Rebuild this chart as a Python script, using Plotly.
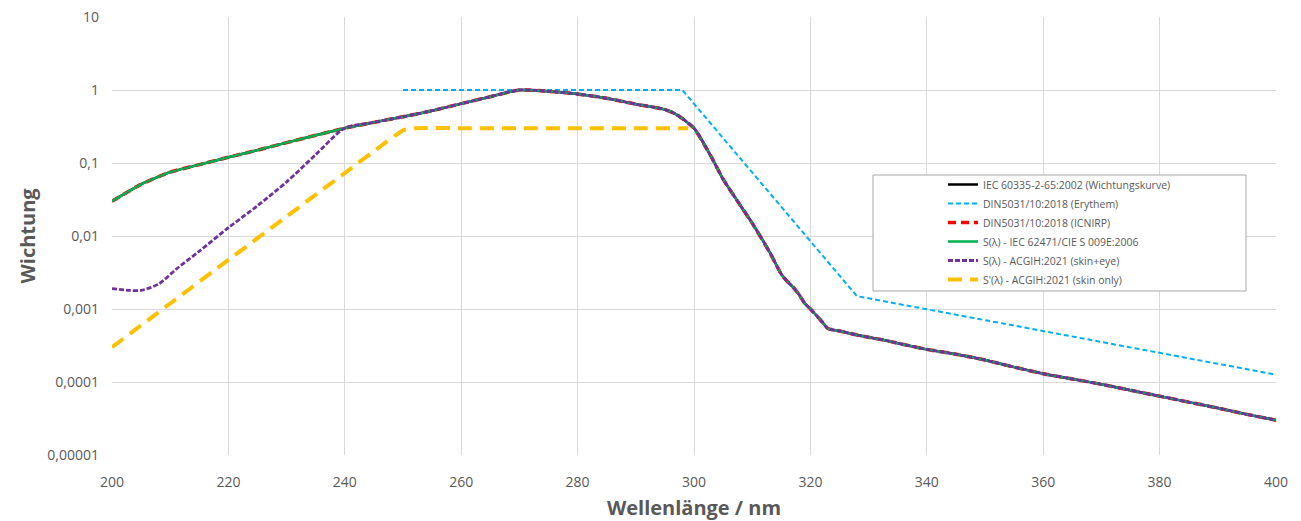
import plotly.graph_objects as go

# ---- data ----
wl_main = [200, 205, 210, 215, 220, 225, 230, 235, 240, 245, 250, 254, 255, 260, 265, 270,
           275, 280, 285, 290, 295, 297, 300, 303, 305, 308, 310, 313, 315, 316, 317, 318,
           319, 320, 322, 323, 325, 328, 330, 333, 335, 340, 345, 350, 355, 360, 365, 370,
           375, 380, 385, 390, 395, 400]
s_main = [0.030, 0.051, 0.075, 0.095, 0.12, 0.15, 0.19, 0.24, 0.30, 0.36, 0.43, 0.50, 0.52,
          0.65, 0.81, 1.00, 0.96, 0.88, 0.77, 0.64, 0.54, 0.46, 0.30, 0.12, 0.06, 0.026,
          0.015, 0.006, 0.003, 0.0024, 0.0020, 0.0016, 0.0012, 0.0010, 0.00067, 0.00054,
          0.00050, 0.00044, 0.00041, 0.00037, 0.00034, 0.00028, 0.00024, 0.00020, 0.00016,
          0.00013, 0.00011, 0.000093, 0.000077, 0.000064, 0.000053, 0.000044, 0.000036,
          0.000030]

wl_ery = [250, 298, 328, 400]
s_ery = [1.0, 1.0, 0.0015, 0.000126]

wl_acgih_low = [200, 203, 205, 208, 211, 215, 220, 225, 230, 235]
s_acgih_low = [0.0019, 0.0018, 0.0018, 0.0022, 0.0035, 0.0062, 0.013, 0.026, 0.055, 0.13]

wl_skin = [200, 210, 220, 230, 240, 245, 250, 252, 260, 270, 280, 290, 298, 299]
s_skin = [0.0003, 0.00119, 0.0047, 0.0185, 0.073, 0.145, 0.28, 0.30, 0.30, 0.30, 0.30,
          0.30, 0.30, 0.30]

names = ["IEC 60335-2-65:2002 (Wichtungskurve)",
         "DIN5031/10:2018 (Erythem)",
         "DIN5031/10:2018 (ICNIRP)",
         "S(λ) - IEC 62471/CIE S 009E:2006",
         "S(λ) - ACGIH:2021 (skin+eye)",
         "S'(λ) - ACGIH:2021 (skin only)"]

y_tickvals = [1e-5, 1e-4, 1e-3, 1e-2, 1e-1, 1, 10]
y_ticktext = ["0,00001", "0,0001", "0,001", "0,01", "0,1", "1", "10"]
x_tickvals = [200, 220, 240, 260, 280, 300, 320, 340, 360, 380, 400]

# purple: ACGIH low part followed by main curve from 240 on
wl_acgih = wl_acgih_low + [w for w in wl_main if w >= 240]
s_acgih = s_acgih_low + [s for w, s in zip(wl_main, s_main) if w >= 240]

fig = go.Figure()
fig.add_trace(go.Scatter(x=wl_main, y=s_main, name=names[0], mode="lines",
                         line=dict(color="#000000", width=2.5, shape="spline", smoothing=0.5)))
fig.add_trace(go.Scatter(x=wl_ery, y=s_ery, name=names[1], mode="lines",
                         line=dict(color="#00b0f0", width=2, dash="5px,3px")))
fig.add_trace(go.Scatter(x=wl_main, y=s_main, name=names[2], mode="lines",
                         line=dict(color="#ff0000", width=3.5, dash="8px,5px", shape="spline", smoothing=0.5)))
fig.add_trace(go.Scatter(x=wl_main, y=s_main, name=names[3], mode="lines",
                         line=dict(color="#00b050", width=2.5, shape="spline", smoothing=0.5)))
fig.add_trace(go.Scatter(x=wl_acgih, y=s_acgih, name=names[4], mode="lines",
                         line=dict(color="#7030a0", width=2.8, dash="5px,2px", shape="spline", smoothing=0.8)))
fig.add_trace(go.Scatter(x=wl_skin, y=s_skin, name=names[5], mode="lines",
                         line=dict(color="#ffc000", width=4, dash="14px,8px", shape="spline", smoothing=0.4)))

grid = "#d9d9d9"
txt = "#595959"
fnt = "Open Sans"

fig.update_layout(
    width=1301, height=521,
    margin=dict(l=112, r=25, t=17, b=66),
    paper_bgcolor="white", plot_bgcolor="white",
    font=dict(family=fnt, color=txt, size=14),
    showlegend=True,
    legend=dict(x=(943 - 112) / 1164, y=(455 - 170) / 438, xanchor="left", yanchor="top",
                bgcolor="rgba(0,0,0,0)", borderwidth=0,
                font=dict(family=fnt, size=10.5, color=txt), tracegroupgap=0),
    xaxis=dict(range=[200, 400], tickvals=x_tickvals, showgrid=True, gridcolor=grid,
               gridwidth=1, zeroline=False, showline=False, ticks="",
               ticklabelstandoff=17, automargin=False,
               title=dict(text="Wellenlänge / nm", font=dict(family=fnt, size=20, color=txt,
                                                               weight="bold"), standoff=14)),
    yaxis=dict(type="log", range=[-5, 1], tickvals=y_tickvals, ticktext=y_ticktext,
               showgrid=True, gridcolor=grid, gridwidth=1, zeroline=False, showline=False,
               ticks="", ticklabelstandoff=12, automargin=False,
               title=dict(text="Wichtung", font=dict(family=fnt, size=20, color=txt,
                                                       weight="bold"), standoff=6)),
    shapes=[dict(type="rect", xref="paper", yref="paper",
                 x0=(873 - 112) / 1164, x1=(1246 - 112) / 1164,
                 y0=(455 - 291) / 438, y1=(455 - 175) / 438,
                 line=dict(color="#a6a6a6", width=1), fillcolor="white", layer="above")],
)

fig.write_html("out.html")
